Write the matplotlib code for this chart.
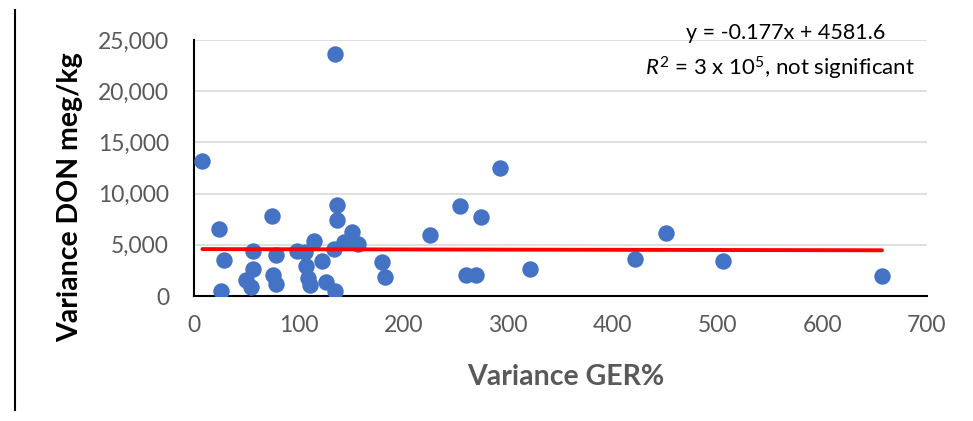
import matplotlib
matplotlib.use("Agg")
import matplotlib.pyplot as plt
import numpy as np

plt.rcParams['font.family'] = ['Lato', 'DejaVu Sans']
plt.rcParams['mathtext.fontset'] = 'custom'
plt.rcParams['mathtext.rm'] = 'Lato'
plt.rcParams['mathtext.it'] = 'Lato:italic'

ger_var = [8, 135, 292, 24, 29, 26, 56, 56, 50, 54, 74, 78, 75, 78,
           98, 106, 115, 107, 109, 111, 122, 126, 135, 137, 137, 134,
           143, 151, 157, 180, 182, 225, 254, 274, 260, 269, 321,
           421, 451, 505, 657]
don_var = [13200, 23600, 12500, 6500, 3560, 480, 4370, 2590, 1550, 840,
           7770, 3980, 2040, 1130, 4370, 4300, 5340, 2940, 1720, 1070,
           3400, 1390, 480, 8900, 7380, 4630, 5270, 6240, 5110, 3300,
           1860, 6000, 8830, 7670, 2040, 2040, 2620, 3590, 6120, 3400,
           1940]

slope = -0.177
intercept = 4581.6
x_ticks = [0, 100, 200, 300, 400, 500, 600, 700]
y_ticks = [0, 5000, 10000, 15000, 20000, 25000]

fig = plt.figure(figsize=(9.73, 4.21), dpi=100)
ax = fig.add_axes([0.1994, 0.2969, 0.7533, 0.6081])

ax.scatter(ger_var, don_var, s=140, color='#4472C4', zorder=3, linewidths=0)
xl = np.array([min(ger_var), max(ger_var)])
ax.plot(xl, slope * xl + intercept, color='#FF0000', lw=2.8, zorder=4,
        solid_capstyle='round')

ax.set_xlim(0, 700)
ax.set_ylim(0, 25000)
ax.set_xticks(x_ticks)
ax.set_yticks(y_ticks)
ax.set_yticklabels([f"{v:,}" for v in y_ticks])
ax.tick_params(axis='both', length=0, labelsize=16.5, colors='#595959')
ax.tick_params(axis='y', pad=18)
ax.tick_params(axis='x', pad=14)
ax.grid(axis='y', color='#D9D9D9', lw=1.2, zorder=0)
ax.set_axisbelow(True)
for s in ['top', 'right']:
    ax.spines[s].set_visible(False)
for s in ['left', 'bottom']:
    ax.spines[s].set_color('black')
    ax.spines[s].set_linewidth(1.5)

fig.text(0.072, 0.532, 'Variance DON meg/kg', rotation=90, ha='center', va='center',
         fontsize=20.5, fontweight='bold', color='black')
fig.text(0.581, 0.105, 'Variance GER%', ha='center', va='center',
         fontsize=20.5, fontweight='bold', color='#595959')

fig.text(0.807, 0.921, 'y = -0.177x + 4581.6', ha='center', va='center',
         fontsize=15.5, color='black')
fig.text(0.94, 0.838, r'$\mathit{R}^2$ = 3 x 10$^5$, not significant', ha='right', va='center',
         fontsize=16, color='black')

fig.add_artist(plt.Line2D([15/973, 15/973], [1 - 10/421, 1 - 410/421],
                          transform=fig.transFigure, color='black', lw=1.5))

fig.savefig('out.png', dpi=100)
